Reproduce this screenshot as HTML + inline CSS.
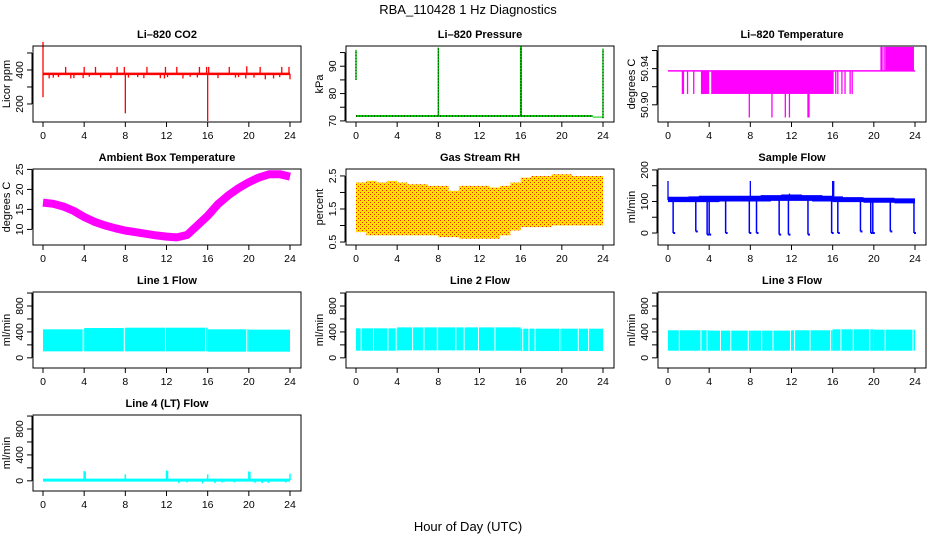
<!DOCTYPE html>
<html><head><meta charset="utf-8">
<style>
body{margin:0;background:#fff;}
svg{display:block;font-family:"Liberation Sans",sans-serif;}
</style></head>
<body>
<svg id="chart" width="936" height="540" viewBox="0 0 936 540" xmlns="http://www.w3.org/2000/svg">
<defs>
<pattern id="rhdots" width="4" height="4" patternUnits="userSpaceOnUse">
<rect width="4" height="4" fill="#ffe000"/>
<rect x="0" y="0" width="1" height="1" fill="#f02000"/>
<rect x="2" y="2" width="1" height="1" fill="#f02000"/>
</pattern>
</defs>
<text x="468" y="14" text-anchor="middle" font-size="13">RBA_110428  1 Hz Diagnostics</text>
<text x="468" y="531" text-anchor="middle" font-size="13">Hour of Day (UTC)</text>
</svg>
<script>
const xTicks=[0,4,8,12,16,20,24];
const hours=[0,1,2,3,4,5,6,7,8,9,10,11,12,13,14,15,16,17,18,19,20,21,22,23,24];
// CO2
const co2Base=377;
const co2SpikeT=[2.2,4.0,5.1,7.2,7.9,10.1,11.9,13.0,15.2,15.9,16.1,18.1,19.8,21.1,23.2,23.9,0.6,1.0,1.5,2.7,3.0,3.9,4.5,5.6,6.6,8.3,9.2,9.8,11.4,11.8,12.1,13.6,14.3,15.0,17.0,18.7,19.0,19.7,20.5,21.6,22.4,23.0,0,0,8,16,24];
const co2SpikeV=[418,418,418,418,418,418,418,418,418,418,418,418,422,418,418,418,350,355,358,350,352,352,360,356,352,355,358,352,352,350,358,350,360,356,352,355,358,350,355,345,350,358,565,240,145,100,345];
// Pressure
const presBase=71.8;
const presSpikeT=[0,8,16,16.05,24];
const presSpikeHi=[96,96.8,97.2,97.2,96.4];
const presSpikeLo=[85,72,72,72,71];
// Li-820 temperature
const tempBase=50.9375;
const tempBlockStart=[3.2,4.2,21.1];
const tempBlockEnd=[4.0,16.1,23.9];
const tempBlockVal=[50.912,50.912,50.964];
const tempLineT=[1.4,1.5,1.9,2.5,16.3,16.5,16.9,17.2,17.7,17.9,20.7,20.8,21.0,7.9,10.1,11.4,11.8,13.6,13.7];
const tempLineV=[50.912,50.912,50.912,50.912,50.912,50.912,50.912,50.912,50.912,50.912,50.964,50.964,50.964,50.886,50.886,50.886,50.886,50.886,50.886];
// Ambient box temperature
const ambient=[16.7,16.4,15.7,14.6,13.1,11.9,11.0,10.3,9.7,9.3,8.9,8.5,8.2,8.0,8.6,11.0,13.4,16.3,18.5,20.3,21.8,23.0,23.8,23.8,23.2];
// RH
const rhUpper=[2.3,2.35,2.3,2.35,2.3,2.25,2.25,2.2,2.2,2.05,2.2,2.2,2.2,2.15,2.2,2.3,2.45,2.5,2.5,2.55,2.55,2.5,2.5,2.5,2.5];
const rhLower=[0.8,0.7,0.7,0.7,0.7,0.7,0.7,0.7,0.65,0.65,0.6,0.6,0.6,0.6,0.7,0.85,0.95,0.95,0.95,1.0,1.0,1.0,1.0,1.0,1.0];
// Sample flow
const sfLower=[98,98,98,98,98,100,100,100,100,100,102,102,102,102,100,100,98,98,98,96,96,96,94,94,94];
const sfUpper=[115,115,116,118,118,118,118,118,118,120,120,122,122,120,120,118,116,114,114,112,112,112,110,110,110];
const sfDropT=[0.5,2.7,3.8,4.0,5.6,7.9,8.6,10.8,11.7,13.6,15.9,16.5,18.7,19.7,19.9,21.6,23.9];
const sfDropV=[0,5,-5,-5,0,0,0,-5,-5,-5,0,0,5,0,0,5,0];
const sfSpikeT=[0,8,11.8,16,16.1];
const sfSpikeV=[165,165,125,165,165];
// Line flows (4-hour segments)
const segStart=[0,4,8,12,16,20];
const segEnd=[4,8,12,16,20,24];
const l1Upper=[440,460,465,465,440,435];
const l1Lower=[100,100,100,100,95,95];
const l1Gaps=[3.9,7.9,11.9,15.8,19.8];
const l2Upper=[455,470,470,470,450,450];
const l2Lower=[110,115,115,110,105,105];
const l2Gaps=[0.5,1.7,3.1,3.9,5.5,6.6,7.9,9.7,10.5,11.9,13.5,16.2,16.8,17.4,19.8,21.6,22.6];
const l3Upper=[425,420,420,425,440,435];
const l3Lower=[110,110,110,110,110,110];
const l3Gaps=[1.1,3.2,3.8,5.1,6.1,7.8,9.1,10.2,11.9,12.3,13.8,15.8,16.8,18.0,19.6,21.1,23.8];
// Line 4
const l4Base=10;
const l4SpikeT=[4,4.1,8,12,12.1,16,20,20.1,24,13.2,14.0,15.5,16.7,17.4,18.6,20.6,21.3,21.9,23.6];
const l4SpikeV=[150,140,100,160,150,100,145,140,110,-35,-25,-40,-35,-25,-25,-30,-35,-30,-25];

const NS="http://www.w3.org/2000/svg";
const svg=document.getElementById('chart');
const colLeft=[33,346,658], rowTop=[46,169,292,415], W=268, H=76;
function el(tag,attrs,parent){const e=document.createElementNS(NS,tag);for(const k in attrs)e.setAttribute(k,attrs[k]);(parent||svg).appendChild(e);return e;}

function panel(name,title,ylab,r,c,ymin,ymax,yt,ytl){
  const L=colLeft[c],T=rowTop[r];
  const g=el('g',{});
  
  
  const sx=v=>L+10+v/24*247;
  const sy=v=>T+H-(v-ymin)/(ymax-ymin)*H;
  const t=el('text',{x:L+W/2,y:T-8,'text-anchor':'middle','font-size':11,'font-weight':'bold'},g);
  t.textContent=title;
  
  
  const yl=el('text',{x:0,y:0,'text-anchor':'middle','font-size':11,transform:`translate(${L-23},${T+H/2}) rotate(-90)`},g);
  yl.textContent=ylab;
  
  
  const xa=el('g',{},g);
  
  
  xTicks.forEach(v=>{el('line',{x1:sx(v),x2:sx(v),y1:T+H,y2:T+H+5,stroke:'#000'},xa);
    const tx=el('text',{x:sx(v),y:T+H+17,'text-anchor':'middle','font-size':10.5},xa);tx.textContent=v;});
  const ya=el('g',{},g);
  
  
  el('line',{x1:L-1,x2:L-1,y1:sy(yt[0]),y2:sy(yt[yt.length-1]),stroke:'#000'},ya);
  yt.forEach((v,i)=>{el('line',{x1:L-6,x2:L-1,y1:sy(v),y2:sy(v),stroke:'#000'},ya);
    if(ytl[i]){const tx=el('text',{x:0,y:0,'text-anchor':'middle','font-size':10.5,transform:`translate(${L-10},${sy(v)}) rotate(-90)`},ya);tx.textContent=ytl[i];}});
  const plot=el('g',{},g);
  
  
  const box=el('rect',{x:L,y:T,width:W,height:H,fill:'none',stroke:'#000'},g);
  
  
  return {sx,sy,plot,L,T};
}
function vline(p,x,y1,y2,col,w){el('line',{x1:x,x2:x,y1:y1,y2:y2,stroke:col,'stroke-width':w||1},p);}

// CO2
{const P=panel('co2','Li\u2013820 CO2','Licor ppm',0,0,94,541,[200,300,400,500],['200','','400','']);
 el('line',{x1:P.sx(0),x2:P.sx(24),y1:P.sy(co2Base),y2:P.sy(co2Base),stroke:'#f00','stroke-width':2.5},P.plot);
 co2SpikeT.forEach((t,i)=>vline(P.plot,P.sx(t),P.sy(co2Base),P.sy(co2SpikeV[i]),'#f00',1.3));}
// Pressure
{const P=panel('pressure','Li\u2013820 Pressure','kPa',0,1,69.6,97.4,[70,75,80,85,90,95],['70','','80','','90','']);
 el('line',{x1:P.sx(0),x2:P.sx(23),y1:P.sy(presBase),y2:P.sy(presBase),stroke:'#0c0','stroke-width':2},P.plot);
 el('line',{x1:P.sx(0),x2:P.sx(23),y1:P.sy(presBase),y2:P.sy(presBase),stroke:'#000','stroke-width':1,'stroke-dasharray':'1 2'},P.plot);
 el('line',{x1:P.sx(23),x2:P.sx(24),y1:P.sy(presBase-0.4),y2:P.sy(presBase-0.4),stroke:'#0c0','stroke-width':1},P.plot);
 presSpikeT.forEach((t,i)=>{vline(P.plot,P.sx(t),P.sy(presSpikeLo[i]),P.sy(presSpikeHi[i]),'#0c0',1.5);
   el('line',{x1:P.sx(t),x2:P.sx(t),y1:P.sy(presSpikeLo[i]),y2:P.sy(presSpikeHi[i]),stroke:'#000','stroke-dasharray':'1 2'},P.plot);});}
// Li temp
{const P=panel('li820-temp','Li\u2013820 Temperature','degrees C',0,2,50.881,50.965,[50.90,50.92,50.94,50.96],['50.90','','50.94','']);
 el('line',{x1:P.sx(0),x2:P.sx(24),y1:P.sy(tempBase),y2:P.sy(tempBase),stroke:'#f0f','stroke-width':1.5},P.plot);
 tempBlockStart.forEach((s,i)=>{const y1=P.sy(tempBase),y2=P.sy(tempBlockVal[i]);
   el('rect',{x:P.sx(s),y:Math.min(y1,y2),width:P.sx(tempBlockEnd[i])-P.sx(s),height:Math.abs(y2-y1),fill:'#f0f'},P.plot);});
 tempLineT.forEach((t,i)=>vline(P.plot,P.sx(t),P.sy(tempBase),P.sy(tempLineV[i]),'#f0f',1.3));}
// Ambient
{const P=panel('ambient-temp','Ambient Box Temperature','degrees C',1,0,6.1,25.1,[10,15,20,25],['10','15','20','25']);
 el('polyline',{points:hours.map((h,i)=>P.sx(h)+','+P.sy(ambient[i])).join(' '),fill:'none',stroke:'#f0f','stroke-width':8,'stroke-linejoin':'round'},P.plot);}
// RH
{const P=panel('gas-rh','Gas Stream RH','percent',1,1,0.41,2.71,[0.5,1.0,1.5,2.0,2.5],['0.5','','1.5','','2.5']);
 let pts=[];
 hours.forEach((h,i)=>{if(i<24){pts.push(P.sx(h)+','+P.sy(rhUpper[i]));pts.push(P.sx(h+1)+','+P.sy(rhUpper[i]));}});
 for(let i=23;i>=0;i--){pts.push(P.sx(hours[i]+1)+','+P.sy(rhLower[i]));pts.push(P.sx(hours[i])+','+P.sy(rhLower[i]));}
 el('polygon',{points:pts.join(' '),fill:'url(#rhdots)'},P.plot);}
// Sample flow
{const P=panel('sample-flow','Sample Flow','ml/min',1,2,-38,203,[0,50,100,150,200],['0','','100','','200']);
 let pts=[];
 hours.forEach((h,i)=>{if(i<24){pts.push(P.sx(h)+','+P.sy(sfUpper[i]));pts.push(P.sx(h+1)+','+P.sy(sfUpper[i]));}});
 for(let i=23;i>=0;i--){pts.push(P.sx(hours[i]+1)+','+P.sy(sfLower[i]));pts.push(P.sx(hours[i])+','+P.sy(sfLower[i]));}
 el('polygon',{points:pts.join(' '),fill:'#00f'},P.plot);
 sfDropT.forEach((t,i)=>{vline(P.plot,P.sx(t),P.sy(104),P.sy(sfDropV[i]),'#00f',1.5);
   el('line',{x1:P.sx(t),x2:P.sx(t)+2,y1:P.sy(sfDropV[i]),y2:P.sy(sfDropV[i]),stroke:'#00f','stroke-width':2},P.plot);});
 sfSpikeT.forEach((t,i)=>vline(P.plot,P.sx(t),P.sy(104),P.sy(sfSpikeV[i]),'#00f',1.3));}
// Line flows
function flowPanel(name,title,r,c,up,lo,gaps){
 const P=panel(name,title,'ml/min',r,c,-157,1016,[0,200,400,600,800,1000],['0','','400','','800','']);
 segStart.forEach((s,i)=>{el('rect',{x:P.sx(s),y:P.sy(up[i]),width:P.sx(segEnd[i])-P.sx(s),height:P.sy(lo[i])-P.sy(up[i]),fill:'#0ff'},P.plot);});
 gaps.forEach(t=>vline(P.plot,P.sx(t),P.sy(480),P.sy(80),'#fff',1));
 return P;}
flowPanel('line1-flow','Line 1 Flow',2,0,l1Upper,l1Lower,l1Gaps);
flowPanel('line2-flow','Line 2 Flow',2,1,l2Upper,l2Lower,l2Gaps);
flowPanel('line3-flow','Line 3 Flow',2,2,l3Upper,l3Lower,l3Gaps);
// Line 4
{const P=panel('line4-flow','Line 4 (LT) Flow','ml/min',3,0,-157,1016,[0,200,400,600,800,1000],['0','','400','','800','']);
 el('line',{x1:P.sx(0),x2:P.sx(24),y1:P.sy(l4Base),y2:P.sy(l4Base),stroke:'#0ff','stroke-width':3},P.plot);
 l4SpikeT.forEach((t,i)=>vline(P.plot,P.sx(t),P.sy(l4Base),P.sy(l4SpikeV[i]),'#0ff',1.5));}
</script>
</body></html>
